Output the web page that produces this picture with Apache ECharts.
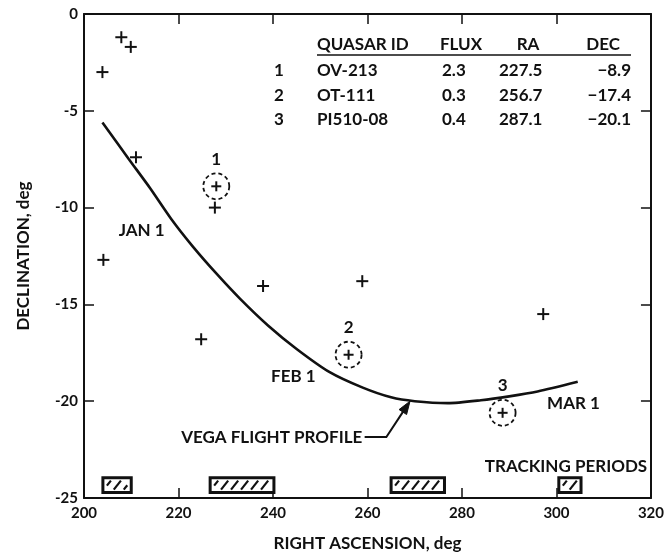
<!DOCTYPE html>
<html><head><meta charset="utf-8">
<script src="https://cdn.jsdelivr.net/npm/echarts@6/dist/echarts.min.js"></script>
<style>html,body{margin:0;padding:0;background:#fff}#c{width:667px;height:558px}</style>
</head><body><div id="c"></div>
<script>
// ---- data ----
const crossRa  = [203.9, 207.9, 209.9, 211.0, 227.7, 204.1, 224.8, 237.9, 258.9, 297.2];
const crossDec = [-3.0, -1.2, -1.7, -7.4, -10.0, -12.7, -16.8, -14.05, -13.8, -15.5];
const quasarNo   = ['1', '2', '3'];
const quasarId   = ['OV-213', 'OT-111', 'PI510-08'];
const quasarFlux = ['2.3', '0.3', '0.4'];
const quasarRa   = ['227.5', '256.7', '287.1'];
const quasarDec  = ['\u22128.9', '\u221217.4', '\u221220.1'];
const circleRa  = [228.0, 256.0, 288.6];
const circleDec = [-8.9, -17.6, -20.6];
const profileRa  = [203.9, 209.5, 214.0, 218.5, 223.0, 228.0, 233.0, 239.0, 245.0, 252.0, 259.0, 265.0, 270.0, 277.0, 284.0, 290.0, 296.0, 304.5];
const profileDec = [-5.6, -7.5, -9.0, -10.6, -12.0, -13.4, -14.7, -16.1, -17.3, -18.5, -19.3, -19.8, -20.0, -20.1, -19.95, -19.75, -19.5, -19.0];
const trackStart = [204.0, 226.7, 265.0, 300.5];
const trackEnd   = [210.0, 240.2, 276.3, 305.2];
const noteText = ['JAN 1', 'FEB 1', 'MAR 1', 'VEGA FLIGHT PROFILE', 'TRACKING PERIODS'];
const noteRa   = [212.2, 244.3, 303.6, 258.9, 319.2];
const noteDec  = [-11.2, -18.75, -20.1, -21.85, -23.35];
const arrowRa  = [259.4, 264.0, 269.0];
const arrowDec = [-21.85, -21.85, -20.0];

// ---- styles ----
const FONT = 'Lato, "Noto Sans", sans-serif';
const font = (s) => 'bold ' + s + 'px ' + FONT;
const INK = '#111';
const TXT = 17;

const chart = echarts.init(document.getElementById('c'), null, {renderer: 'canvas'});

function crossItem(params, api) {
  const p = api.coord([api.value(0), api.value(1)]);
  const h = 6;
  return {type: 'group', children: [
    {type: 'line', shape: {x1: p[0] - h, y1: p[1], x2: p[0] + h, y2: p[1]}, style: {stroke: INK, lineWidth: 2}},
    {type: 'line', shape: {x1: p[0], y1: p[1] - h, x2: p[0], y2: p[1] + h}, style: {stroke: INK, lineWidth: 2}}
  ]};
}

function circleItem(params, api) {
  const p = api.coord([api.value(0), api.value(1)]);
  const h = 5;
  return {type: 'group', children: [
    {type: 'circle', shape: {cx: p[0], cy: p[1], r: 13}, style: {fill: 'none', stroke: INK, lineWidth: 1.8, lineDash: [4, 3]}},
    {type: 'line', shape: {x1: p[0] - h, y1: p[1], x2: p[0] + h, y2: p[1]}, style: {stroke: INK, lineWidth: 2}},
    {type: 'line', shape: {x1: p[0], y1: p[1] - h, x2: p[0], y2: p[1] + h}, style: {stroke: INK, lineWidth: 2}},
    {type: 'text', style: {text: quasarNo[params.dataIndex], x: p[0], y: p[1] - 27, align: 'center', verticalAlign: 'middle', textAlign: 'center', textVerticalAlign: 'middle', font: font(TXT), fill: INK}}
  ]};
}

function trackItem(params, api) {
  const a = api.coord([api.value(0), -23.95]);
  const b = api.coord([api.value(1), -24.72]);
  const x1 = a[0], x2 = b[0], yt = a[1], yb = b[1];
  const children = [{type: 'rect', shape: {x: x1, y: yt, width: x2 - x1, height: yb - yt}, style: {fill: '#fff', stroke: INK, lineWidth: 3}}];
  const L = x1 + 4, R = x2 - 4, T = yt + 3, B = yb - 3;
  const dx = (B - T) * 0.8;
  for (let s = L - dx + 4; s < R; s += 10) {
    let t0 = Math.max(0, (L - s) / dx), t1 = Math.min(1, (R - s) / dx);
    if (t1 <= t0) continue;
    children.push({type: 'line', shape: {x1: s + dx * t0, y1: B - (B - T) * t0, x2: s + dx * t1, y2: B - (B - T) * t1}, style: {stroke: INK, lineWidth: 2.2}});
  }
  return {type: 'group', children};
}

function noteItem(params, api) {
  const p = api.coord([api.value(0), api.value(1)]);
  const i = params.dataIndex;
  const right = i >= 3;
  return {type: 'text', style: {text: noteText[i], x: p[0], y: p[1], align: right ? 'right' : 'center', textAlign: right ? 'right' : 'center', verticalAlign: 'middle', textVerticalAlign: 'middle', font: font(TXT), fill: INK}};
}

function arrowItem(params, api) {
  if (params.dataIndex !== 0) return null;
  const pts = arrowRa.map((r, i) => api.coord([r, arrowDec[i]]));
  const tip = pts[pts.length - 1], prev = pts[pts.length - 2];
  const ang = Math.atan2(tip[1] - prev[1], tip[0] - prev[0]);
  const len = 13, w = 4.5;
  const bx = tip[0] - len * Math.cos(ang), by = tip[1] - len * Math.sin(ang);
  const nx = -Math.sin(ang) * w, ny = Math.cos(ang) * w;
  const shaftEnd = [tip[0] - (len - 2) * Math.cos(ang), tip[1] - (len - 2) * Math.sin(ang)];
  return {type: 'group', children: [
    {type: 'polyline', shape: {points: [pts[0], pts[1], shaftEnd]}, style: {stroke: INK, lineWidth: 2, fill: 'none'}},
    {type: 'polygon', shape: {points: [tip, [bx + nx, by + ny], [bx - nx, by - ny]]}, style: {fill: INK, stroke: INK, lineWidth: 1}}
  ]};
}

const axisCommon = {
  axisLine: {show: true, onZero: false, lineStyle: {color: INK, width: 2}},
  axisTick: {show: true, inside: true, length: 10, lineStyle: {color: INK, width: 1.5}},
  splitLine: {show: false}
};

// table (annotation text)
const colX = {no: 279, id: 317, flux: 442, ra: 499, dec: 631};
const rowY = [71, 96, 120];
const hdr = (x, text, al) => ({type: 'text', x, y: 45, style: {text, font: font(TXT), fill: INK, textAlign: al, align: al, textVerticalAlign: 'middle', verticalAlign: 'middle'}});
const tableEls = [
  hdr(317, 'QUASAR ID', 'left'),
  hdr(440, 'FLUX', 'left'),
  hdr(528, 'RA', 'center'),
  hdr(620, 'DEC', 'right'),
  {type: 'line', shape: {x1: 317, y1: 55, x2: 631, y2: 55}, style: {stroke: INK, lineWidth: 1.5}}
];
quasarId.forEach((id, i) => {
  const y = rowY[i];
  const mk = (x, text, al) => ({type: 'text', x, y, style: {text, font: font(TXT), fill: INK, textAlign: al, align: al, textVerticalAlign: 'middle', verticalAlign: 'middle'}});
  tableEls.push(mk(colX.no, quasarNo[i], 'center'));
  tableEls.push(mk(colX.id, id, 'left'));
  tableEls.push(mk(colX.flux, quasarFlux[i], 'left'));
  tableEls.push(mk(colX.ra, quasarRa[i], 'left'));
  tableEls.push(mk(colX.dec, quasarDec[i], 'right'));
});

const option = {
  backgroundColor: '#fff',
  animation: false,
  textStyle: {fontFamily: FONT},
  grid: {left: 84, right: 4, top: 14, bottom: 60, containLabel: false},
  xAxis: [
    Object.assign({}, axisCommon, {
      type: 'value', position: 'bottom', min: 200, max: 320, interval: 20,
      name: 'RIGHT ASCENSION, deg', nameLocation: 'middle', nameGap: 37,
      nameTextStyle: {color: INK, fontSize: TXT, fontWeight: 'bold', fontFamily: FONT},
      axisLabel: {color: INK, fontSize: 15, fontWeight: 'bold', fontFamily: FONT, margin: 8}
    }),
    Object.assign({}, axisCommon, {
      type: 'value', position: 'top', min: 200, max: 320, interval: 20,
      axisLabel: {show: false}
    })
  ],
  yAxis: [
    Object.assign({}, axisCommon, {
      type: 'value', position: 'left', min: -25, max: 0, interval: 5,
      name: 'DECLINATION, deg', nameLocation: 'middle', nameGap: 52, nameRotate: 90,
      nameTextStyle: {color: INK, fontSize: TXT, fontWeight: 'bold', fontFamily: FONT},
      axisLabel: {color: INK, fontSize: 15, fontWeight: 'bold', fontFamily: FONT, margin: 6}
    }),
    Object.assign({}, axisCommon, {
      type: 'value', position: 'right', min: -25, max: 0, interval: 5,
      axisLabel: {show: false}
    })
  ],
  graphic: {elements: tableEls},
  series: [
    {type: 'line', data: profileRa.map((r, i) => [r, profileDec[i]]), smooth: 0.25,
     showSymbol: false, symbol: 'none', lineStyle: {color: INK, width: 2.6}, z: 3},
    {type: 'custom', renderItem: crossItem, data: crossRa.map((r, i) => [r, crossDec[i]]), z: 4},
    {type: 'custom', renderItem: circleItem, data: circleRa.map((r, i) => [r, circleDec[i]]), z: 4},
    {type: 'custom', renderItem: trackItem, data: trackStart.map((s, i) => [s, trackEnd[i]]), z: 5},
    {type: 'custom', renderItem: noteItem, data: noteRa.map((r, i) => [r, noteDec[i]]), z: 5},
    {type: 'custom', renderItem: arrowItem, data: [[arrowRa[0], arrowDec[0]]], z: 5}
  ]
};
chart.setOption(option);
</script>
</body></html>
